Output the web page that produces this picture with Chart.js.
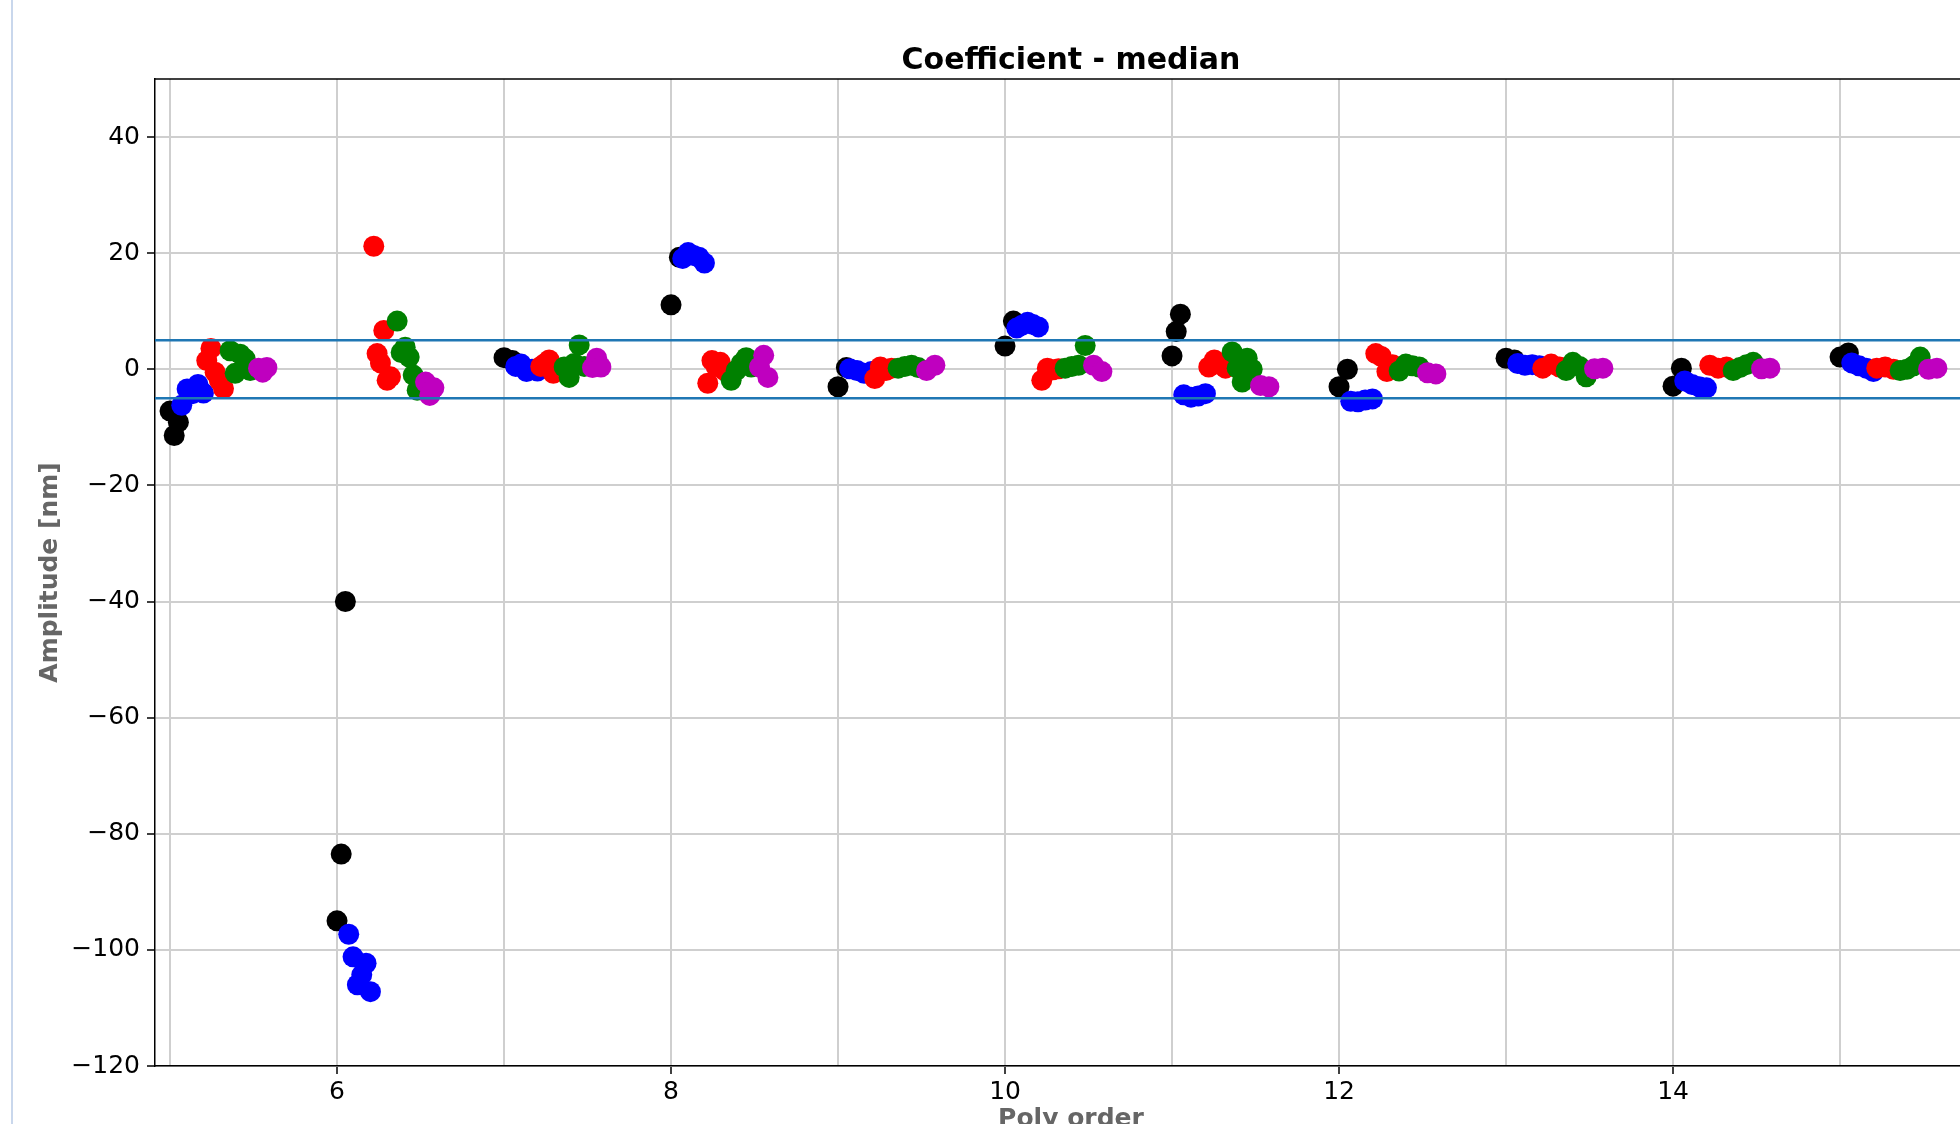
<!DOCTYPE html>
<html>
<head>
<meta charset="utf-8">
<script src="https://cdn.jsdelivr.net/npm/chart.js@4/dist/chart.umd.min.js"></script>
<style>
  html, body { margin: 0; padding: 0; background: #fff; overflow: hidden; width: 1960px; height: 1124px; }
  #wrap { position: absolute; left: 0; top: 0; width: 2000px; height: 1160px; }
  #edge { position: absolute; left: 11px; top: 0; width: 2px; height: 1124px; background: #c9d7ec; }
</style>
</head>
<body>
<div id="wrap"><canvas id="coef" width="2000" height="1160"></canvas></div>
<div id="edge"></div>
<script>
// poly orders on the x axis
const polyOrders = [5, 6, 7, 8, 9, 10, 11, 12, 13, 14, 15];
const xTicks = [5, 6, 7, 8, 9, 10, 11, 12, 13, 14, 15];
const yTicks = [-120, -100, -80, -60, -40, -20, 0, 20, 40];
const limit = 5; // +/- band in nm

// median amplitude per coefficient, one small list per poly order
const coefBlack = [
  [-7.2, -11.4, -9.1], [-95.0, -83.5, -40.0], [2.0, 1.5], [11.1, 19.3], [-3.0, 0.3],
  [4.0, 8.3], [2.3, 6.5, 9.5], [-3.0, 0.0], [1.9, 1.6], [-2.9, 0.2], [2.1, 2.8]
];
const coefBlue = [
  [-6.2, -3.4, -4.2, -2.6, -4.1], [-97.3, -101.2, -106.0, -104.3, -102.3, -107.2],
  [0.5, 0.9, -0.4, 0.0, -0.3], [19.1, 20.1, 19.6, 19.3, 18.3], [0.1, -0.2, -0.7, -0.4],
  [7.1, 7.6, 8.1, 7.7, 7.3], [-4.4, -4.8, -4.6, -4.2], [-5.5, -5.6, -5.3, -5.1],
  [1.0, 0.7, 0.8, 0.6], [-2.0, -2.6, -3.0, -3.2], [1.1, 0.6, 0.2, -0.4]
];
const coefRed = [
  [1.5, 3.6, -0.5, -1.9, -3.3], [21.2, 2.7, 1.1, 6.7, -1.9, -1.3], [0.5, 1.0, 1.6, -0.7, 0.2],
  [-2.4, 1.5, 0.5, 1.2, -0.2], [-1.6, 0.4, -0.2, 0.2], [-1.9, 0.2, -0.1, 0.1],
  [0.4, 1.6, 0.8, 0.2], [2.7, 2.2, -0.4, 0.8], [0.2, 0.9, 0.4], [0.7, 0.2, 0.4], [0.2, 0.4, 0.0]
];
const coefGreen = [
  [3.2, -0.7, 2.6, 1.8, -0.2], [8.3, 2.9, 3.8, 2.1, -1.0, -3.6], [0.4, -1.4, 1.0, 4.2, 0.5],
  [-1.9, -0.2, 1.0, 2.0, 0.4], [0.2, 0.5, 0.7, 0.3], [0.2, 0.5, 0.7, 4.1],
  [3.0, 0.2, -2.2, 1.9, 0.0], [-0.3, 0.9, 0.6, 0.4], [-0.2, 1.2, 0.5, -1.3],
  [-0.2, 0.3, 0.8, 1.2], [-0.2, 0.0, 0.6, 2.1]
];
const coefMagenta = [
  [0.2, -0.5, 0.3], [-2.2, -4.5, -3.2], [0.3, 1.9, 0.4], [0.4, 2.4, -1.4], [-0.2, 0.7],
  [0.7, -0.4], [-2.8, -3.0], [-0.6, -0.8], [0.1, 0.2], [0.1, 0.2], [0.0, 0.2]
];

const xMin = 4.91, xMax = 15.88;

// spread the points of one coefficient a little to the right of its poly order
function toPoints(values, start, width) {
  const pts = [];
  values.forEach((list, k) => {
    list.forEach((v, i) => {
      const dx = list.length > 1 ? start + i * width / (list.length - 1) : start;
      pts.push({ x: polyOrders[k] + dx, y: v });
    });
  });
  return pts;
}

function dots(data, color, order) {
  return {
    type: 'scatter', data: data, order: order,
    backgroundColor: color, borderWidth: 0,
    pointRadius: 10.5, pointHoverRadius: 10.5
  };
}

function band(y) {
  return {
    type: 'line', order: -1,
    data: [{ x: xMin, y: y }, { x: xMax, y: y }],
    borderColor: '#1f77b4', borderWidth: 2.5, pointRadius: 0, fill: false
  };
}

const frameTop = {
  id: 'frameTop',
  afterDatasetsDraw(chart) {
    const a = chart.chartArea, ctx = chart.ctx;
    ctx.save();
    ctx.strokeStyle = '#000';
    ctx.lineWidth = 1.5;
    ctx.beginPath();
    ctx.moveTo(a.left, a.top);
    ctx.lineTo(a.right, a.top);
    ctx.stroke();
    ctx.restore();
  }
};

const font = 'DejaVu Sans';

new Chart(document.getElementById('coef'), {
  type: 'scatter',
  data: {
    datasets: [
      dots(toPoints(coefBlack, 0.0, 0.05), '#000000', 5),
      dots(toPoints(coefBlue, 0.07, 0.13), '#0000ff', 4),
      dots(toPoints(coefRed, 0.22, 0.1), '#ff0000', 3),
      dots(toPoints(coefGreen, 0.36, 0.12), '#008000', 2),
      dots(toPoints(coefMagenta, 0.53, 0.05), '#bf00bf', 1),
      band(limit),
      band(-limit)
    ]
  },
  options: {
    responsive: false,
    animation: false,
    layout: { padding: { left: 0, right: 13, top: 0, bottom: 0 } },
    plugins: {
      legend: { display: false },
      tooltip: { enabled: false },
      title: {
        display: true, fullSize: false,
        text: 'Coefficient - median',
        color: '#000',
        font: { family: font, size: 30, weight: 'bold' },
        padding: { top: 43, bottom: 0 }
      }
    },
    scales: {
      x: {
        type: 'linear', min: xMin, max: xMax,
        afterBuildTicks: s => { s.ticks = xTicks.map(v => ({ value: v })); },
        afterFit: s => { s.height = 94; },
        border: { color: '#000', width: 1.5 },
        grid: {
          color: '#cfcfcf', lineWidth: 2, tickLength: 8, tickWidth: 1.5,
          tickColor: c => (c.tick && c.tick.value % 2 === 0) ? '#000' : 'rgba(0,0,0,0)'
        },
        ticks: {
          color: '#000', padding: 3, maxRotation: 0, autoSkip: false,
          font: { family: font, size: 25 },
          callback: v => (v % 2 === 0 ? String(v) : '')
        },
        title: {
          display: true, text: 'Poly order', color: '#666',
          font: { family: font, size: 25, weight: 'bold' },
          padding: { top: 0, bottom: 26 }
        }
      },
      y: {
        type: 'linear', min: -120, max: 50,
        afterBuildTicks: s => { s.ticks = yTicks.map(v => ({ value: v })); },
        afterFit: s => { s.width = 155; },
        border: { color: '#000', width: 1.5 },
        grid: { color: '#cfcfcf', lineWidth: 2, tickLength: 8, tickWidth: 1.5, tickColor: '#000' },
        ticks: {
          color: '#000', padding: 7,
          font: { family: font, size: 25 },
          callback: v => (v < 0 ? '\u2212' + Math.abs(v) : String(v))
        },
        title: {
          display: true, text: 'Amplitude [nm]', color: '#666',
          font: { family: font, size: 25, weight: 'bold' },
          padding: { top: 35, bottom: 0 }
        }
      }
    }
  },
  plugins: [frameTop]
});
</script>
</body>
</html>
